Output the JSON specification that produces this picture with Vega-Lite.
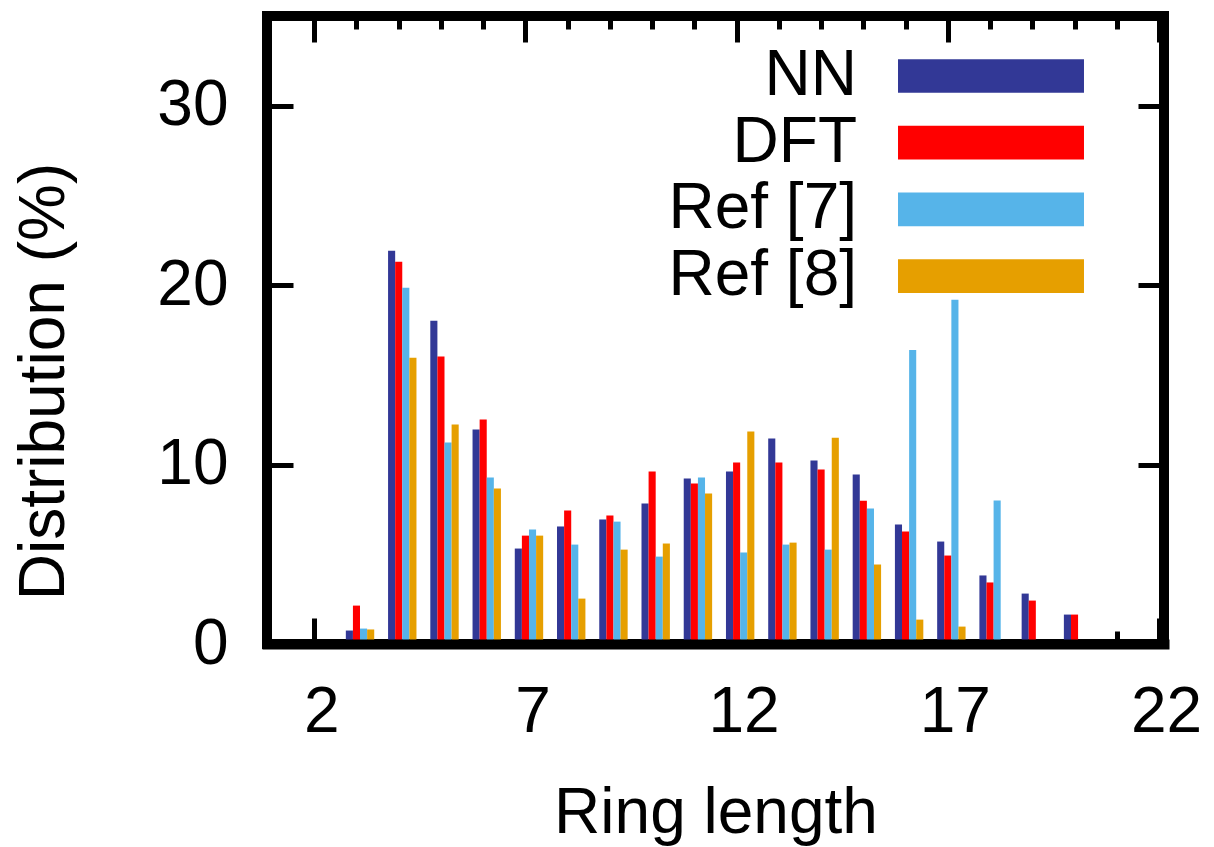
{
  "$schema": "https://vega.github.io/schema/vega-lite/v6.json",
  "width": 897,
  "height": 628,
  "autosize": {"type": "none"},
  "padding": {"left": 267, "top": 16, "right": 50, "bottom": 203},
  "background": "white",
  "config": {"view": {"stroke": "black", "strokeWidth": 10}, "font": "Liberation Sans"},
  "data": {"values": [
    {"ring": 3, "series": "NN", "value": 0.75}, {"ring": 3, "series": "DFT", "value": 2.14}, {"ring": 3, "series": "Ref [7]", "value": 0.86}, {"ring": 3, "series": "Ref [8]", "value": 0.81},
    {"ring": 4, "series": "NN", "value": 21.92}, {"ring": 4, "series": "DFT", "value": 21.31}, {"ring": 4, "series": "Ref [7]", "value": 19.86}, {"ring": 4, "series": "Ref [8]", "value": 15.96},
    {"ring": 5, "series": "NN", "value": 18.02}, {"ring": 5, "series": "DFT", "value": 16.02}, {"ring": 5, "series": "Ref [7]", "value": 11.23}, {"ring": 5, "series": "Ref [8]", "value": 12.23},
    {"ring": 6, "series": "NN", "value": 11.95}, {"ring": 6, "series": "DFT", "value": 12.51}, {"ring": 6, "series": "Ref [7]", "value": 9.28}, {"ring": 6, "series": "Ref [8]", "value": 8.66},
    {"ring": 7, "series": "NN", "value": 5.32}, {"ring": 7, "series": "DFT", "value": 6.04}, {"ring": 7, "series": "Ref [7]", "value": 6.38}, {"ring": 7, "series": "Ref [8]", "value": 6.04},
    {"ring": 8, "series": "NN", "value": 6.55}, {"ring": 8, "series": "DFT", "value": 7.44}, {"ring": 8, "series": "Ref [7]", "value": 5.54}, {"ring": 8, "series": "Ref [8]", "value": 2.53},
    {"ring": 9, "series": "NN", "value": 6.94}, {"ring": 9, "series": "DFT", "value": 7.16}, {"ring": 9, "series": "Ref [7]", "value": 6.82}, {"ring": 9, "series": "Ref [8]", "value": 5.26},
    {"ring": 10, "series": "NN", "value": 7.83}, {"ring": 10, "series": "DFT", "value": 9.61}, {"ring": 10, "series": "Ref [7]", "value": 4.87}, {"ring": 10, "series": "Ref [8]", "value": 5.6},
    {"ring": 11, "series": "NN", "value": 9.22}, {"ring": 11, "series": "DFT", "value": 8.94}, {"ring": 11, "series": "Ref [7]", "value": 9.28}, {"ring": 11, "series": "Ref [8]", "value": 8.39},
    {"ring": 12, "series": "NN", "value": 9.61}, {"ring": 12, "series": "DFT", "value": 10.11}, {"ring": 12, "series": "Ref [7]", "value": 5.1}, {"ring": 12, "series": "Ref [8]", "value": 11.84},
    {"ring": 13, "series": "NN", "value": 11.45}, {"ring": 13, "series": "DFT", "value": 10.11}, {"ring": 13, "series": "Ref [7]", "value": 5.54}, {"ring": 13, "series": "Ref [8]", "value": 5.65},
    {"ring": 14, "series": "NN", "value": 10.22}, {"ring": 14, "series": "DFT", "value": 9.72}, {"ring": 14, "series": "Ref [7]", "value": 5.26}, {"ring": 14, "series": "Ref [8]", "value": 11.5},
    {"ring": 15, "series": "NN", "value": 9.44}, {"ring": 15, "series": "DFT", "value": 7.99}, {"ring": 15, "series": "Ref [7]", "value": 7.55}, {"ring": 15, "series": "Ref [8]", "value": 4.43},
    {"ring": 16, "series": "NN", "value": 6.66}, {"ring": 16, "series": "DFT", "value": 6.27}, {"ring": 16, "series": "Ref [7]", "value": 16.38}, {"ring": 16, "series": "Ref [8]", "value": 1.36},
    {"ring": 17, "series": "NN", "value": 5.71}, {"ring": 17, "series": "DFT", "value": 4.93}, {"ring": 17, "series": "Ref [7]", "value": 19.19}, {"ring": 17, "series": "Ref [8]", "value": 0.97},
    {"ring": 18, "series": "NN", "value": 3.82}, {"ring": 18, "series": "DFT", "value": 3.43}, {"ring": 18, "series": "Ref [7]", "value": 8.0},
    {"ring": 19, "series": "NN", "value": 2.81}, {"ring": 19, "series": "DFT", "value": 2.42},
    {"ring": 20, "series": "NN", "value": 1.64}, {"ring": 20, "series": "DFT", "value": 1.64}
  ]},
  "layer": [
    {
      "transform": [{"filter": "datum.series === 'NN'"}],
      "mark": {"type": "bar", "orient": "vertical", "size": 7.1, "xOffset": -7.1},
      "encoding": {
        "x": {"field": "ring", "type": "quantitative", "scale": {"domain": [1, 22], "nice": false, "zero": false},
          "axis": {"orient": "bottom", "values": [2, 7, 12, 17, 22], "format": "d", "title": "Ring length",
            "titleFontSize": 64, "titleFont": "Liberation Sans", "titleFontWeight": "normal", "titleColor": "black",
            "titleBaseline": "alphabetic", "titleY": 188, "titlePadding": 0,
            "labelFontSize": 64, "labelFont": "Liberation Sans", "labelColor": "black", "labelPadding": 87,
            "labelBaseline": "alphabetic", "labelOffset": 7, "labelFlush": false, "labelOverlap": false,
            "ticks": false, "grid": false, "domain": true, "domainColor": "black", "domainWidth": 10, "domainCap": "square", "zindex": 1}},
        "y": {"field": "value", "type": "quantitative", "stack": null, "scale": {"domain": [0, 35], "nice": false},
          "axis": {"orient": "left", "values": [0, 10, 20, 30], "format": "d", "title": "Distribution (%)",
            "titleFontSize": 64, "titleFont": "Liberation Sans", "titleFontWeight": "normal", "titleColor": "black",
            "titleAngle": 270, "titleAlign": "center", "titleBaseline": "alphabetic", "titleX": -204, "titleY": 365,
            "labelFontSize": 64, "labelFont": "Liberation Sans", "labelColor": "black", "labelPadding": 39,
            "labelBaseline": "middle", "labelFlush": false, "labelOverlap": false,
            "ticks": false, "grid": false, "domain": false}},
        "color": {"field": "series", "type": "nominal",
          "scale": {"domain": ["NN", "DFT", "Ref [7]", "Ref [8]"], "range": ["#323896", "#ff0000", "#56b4e9", "#e69f00"]},
          "legend": {"orient": "none", "legendX": 692, "legendY": 28, "title": null, "direction": "vertical",
            "labelFontSize": 64, "labelFont": "Liberation Sans", "labelColor": "black", "labelAlign": "right",
            "labelBaseline": "middle", "labelOffset": -166, "labelLimit": 500,
            "symbolType": "M-2.906,-0.527H2.906V0.527H-2.906Z", "symbolSize": 4096, "symbolStrokeWidth": 0, "symbolOpacity": 1,
            "rowPadding": 2.7, "padding": 0}}
      }
    },
    {
      "transform": [{"filter": "datum.series === 'DFT'"}],
      "mark": {"type": "bar", "orient": "vertical", "size": 7.1, "xOffset": 0},
      "encoding": {
        "x": {"field": "ring", "type": "quantitative", "scale": {"domain": [1, 22], "nice": false, "zero": false},
          "axis": {"orient": "bottom", "values": [2, 7, 12, 17, 22], "labels": false, "ticks": false, "domain": false, "title": null,
            "grid": true, "gridColor": "black", "gridWidth": 5, "gridOpacity": 1, "gridDash": [26, 576, 26]}},
        "y": {"field": "value", "type": "quantitative", "stack": null, "scale": {"domain": [0, 35], "nice": false},
          "axis": {"orient": "left", "values": [10, 20, 30], "labels": false, "ticks": false, "domain": false, "title": null,
            "grid": true, "gridColor": "black", "gridWidth": 5, "gridOpacity": 1, "gridDash": [26, 845, 26]}},
        "color": {"field": "series", "type": "nominal",
          "scale": {"domain": ["NN", "DFT", "Ref [7]", "Ref [8]"], "range": ["#323896", "#ff0000", "#56b4e9", "#e69f00"]}}
      }
    },
    {
      "transform": [{"filter": "datum.series === 'Ref [7]'"}],
      "mark": {"type": "bar", "orient": "vertical", "size": 7.1, "xOffset": 7.1},
      "encoding": {
        "x": {"field": "ring", "type": "quantitative", "scale": {"domain": [1, 22], "nice": false, "zero": false},
          "axis": {"orient": "bottom", "values": [3, 4, 5, 6, 8, 9, 10, 11, 13, 14, 15, 16, 18, 19, 20, 21], "labels": false, "ticks": false, "domain": false, "title": null,
            "grid": true, "gridColor": "black", "gridWidth": 5, "gridOpacity": 1, "gridDash": [13, 602, 13]}},
        "y": {"field": "value", "type": "quantitative", "stack": null, "scale": {"domain": [0, 35], "nice": false}, "axis": null},
        "color": {"field": "series", "type": "nominal",
          "scale": {"domain": ["NN", "DFT", "Ref [7]", "Ref [8]"], "range": ["#323896", "#ff0000", "#56b4e9", "#e69f00"]}}
      }
    },
    {
      "transform": [{"filter": "datum.series === 'Ref [8]'"}],
      "mark": {"type": "bar", "orient": "vertical", "size": 7.1, "xOffset": 14.2},
      "encoding": {
        "x": {"field": "ring", "type": "quantitative", "scale": {"domain": [1, 22], "nice": false, "zero": false}, "axis": null},
        "y": {"field": "value", "type": "quantitative", "stack": null, "scale": {"domain": [0, 35], "nice": false}, "axis": null},
        "color": {"field": "series", "type": "nominal",
          "scale": {"domain": ["NN", "DFT", "Ref [7]", "Ref [8]"], "range": ["#323896", "#ff0000", "#56b4e9", "#e69f00"]}}
      }
    }
  ],
  "resolve": {"axis": {"x": "independent", "y": "independent"}}
}
